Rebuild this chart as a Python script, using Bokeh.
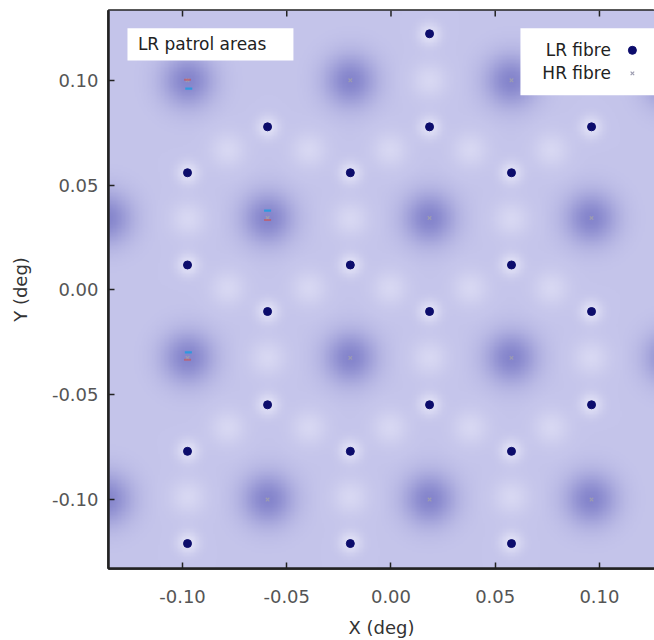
import numpy as np
from bokeh.plotting import figure
from bokeh.models import (Range1d, FixedTicker, NumeralTickFormatter,
                          BoxAnnotation, Label, ColumnDataSource)
from bokeh.embed import file_html
from bokeh.resources import INLINE

# ---------------- data (degrees) ----------------
lr_x = [-0.0976, -0.0976, -0.0976, -0.0976,
        -0.0592, -0.0592, -0.0592,
        -0.0195, -0.0195, -0.0195, -0.0195,
        0.0185, 0.0185, 0.0185, 0.0185,
        0.0578, 0.0578, 0.0578, 0.0578,
        0.0962, 0.0962, 0.0962]
lr_y = [0.0559, 0.0119, -0.0770, -0.1210,
        0.0778, -0.0103, -0.0548,
        0.0559, 0.0119, -0.0770, -0.1210,
        0.1222, 0.0778, -0.0103, -0.0548,
        0.0559, 0.0119, -0.0770, -0.1210,
        0.0778, -0.0103, -0.0548]

hr_x = [-0.0976, -0.0976, -0.0592, -0.0592, -0.0195, -0.0195,
        0.0185, 0.0185, 0.0578, 0.0578, 0.0962, 0.0962]
hr_y = [0.1000, -0.0324, 0.0343, -0.1000, 0.1000, -0.0324,
        0.0343, -0.1000, 0.1000, -0.0324, 0.0343, -0.1000]

# HR fibres just beyond the plotted window (their patrol hole shows at the edge)
hr_edge_x = [-0.1370, -0.1370, 0.1350, 0.1350]
hr_edge_y = [0.0343, -0.1000, 0.1000, -0.0324]

# small coloured marks seen next to some HR fibres
red_x = [-0.0976, -0.0592, -0.0976]
red_y = [0.1003, 0.0333, -0.0333]
cyan_x = [-0.0970, -0.0592, -0.0972]
cyan_y = [0.0960, 0.0378, -0.0298]

x_ticks = [-0.10, -0.05, 0.00, 0.05, 0.10]
y_ticks = [-0.10, -0.05, 0.00, 0.05, 0.10]

X0, X1 = -0.1355, 0.1264
Y0, Y1 = -0.1329, 0.1333

# ---------------- background patrol map ----------------
nx, ny = 420, 420
gx = np.linspace(X0, X1, nx)
gy = np.linspace(Y0, Y1, ny)
GX, GY = np.meshgrid(gx, gy)
field = np.zeros_like(GX)
for hx, hy in zip(hr_x + hr_edge_x, hr_y + hr_edge_y):
    field -= 0.75 * np.exp(-((GX - hx) ** 2 + (GY - hy) ** 2) / (2 * 0.0090 ** 2))
lx = np.array(lr_x); ly = np.array(lr_y)
for i in range(len(lx)):
    for j in range(i + 1, len(lx)):
        d = np.hypot(lx[i] - lx[j], ly[i] - ly[j])
        if d < 0.05:
            mx, my = (lx[i] + lx[j]) / 2, (ly[i] + ly[j]) / 2
            field += 0.5 * np.exp(-((GX - mx) ** 2 + (GY - my) ** 2) / (2 * 0.0060 ** 2))
for x, y in zip(lr_x, lr_y):
    field += 0.8 * np.exp(-((GX - x) ** 2 + (GY - y) ** 2) / (2 * 0.0038 ** 2))
field = np.clip(field, -1, 1)

base = np.array([197, 197, 235], float)
dark = np.array([112, 112, 194], float)
light = np.array([234, 234, 250], float)
t = field[..., None]
rgb = np.where(t < 0, base + (-t) * (dark - base), base + t * (light - base))
img = np.empty((ny, nx), dtype=np.uint32)
view = img.view(dtype=np.uint8).reshape((ny, nx, 4))
view[..., 0] = rgb[..., 0].astype(np.uint8)
view[..., 1] = rgb[..., 1].astype(np.uint8)
view[..., 2] = rgb[..., 2].astype(np.uint8)
view[..., 3] = 255

FONT = "DejaVu Sans"

p = figure(width=654, height=640, x_range=Range1d(X0, X1), y_range=Range1d(Y0, Y1),
           output_backend="svg", toolbar_location=None,
           x_axis_label="X (deg)", y_axis_label="Y (deg)")
p.min_border_left = 108
p.min_border_right = 0
p.min_border_top = 10
p.min_border_bottom = 71
p.grid.visible = False
p.background_fill_color = "white"
p.border_fill_color = "white"
p.outline_line_color = "#222222"
p.outline_line_width = 2.5

p.image_rgba(image=[img], x=X0, y=Y0, dw=X1 - X0, dh=Y1 - Y0)

# inward ticks along the top edge, at the x tick values
tick_len = 6.0 / 2100.0
p.segment(x0=x_ticks, y0=[Y1] * len(x_ticks), x1=x_ticks, y1=[Y1 - tick_len] * len(x_ticks),
          line_color="#222222", line_width=1.5)

src_lr = ColumnDataSource(dict(x=lr_x, y=lr_y))
src_hr = ColumnDataSource(dict(x=hr_x, y=hr_y))
p.scatter("x", "y", source=src_hr, marker="x", size=5, line_color="#9c9cb0", line_width=1.2)
p.scatter(red_x, red_y, marker="dash", size=7, line_color="#d05050", line_width=2, line_alpha=0.6)
p.scatter(cyan_x, cyan_y, marker="dash", size=7, line_color="#1e9be0", line_width=2.2, line_alpha=0.85)
p.scatter("x", "y", source=src_lr, marker="circle", size=8, fill_color="#0c0c6c",
          line_color="#0c0c6c")

for ax, ticks in ((p.xaxis[0], x_ticks), (p.yaxis[0], y_ticks)):
    ax.ticker = FixedTicker(ticks=ticks)
    ax.formatter = NumeralTickFormatter(format="0.00")
    ax.major_tick_in = 6
    ax.major_tick_out = 0
    ax.major_tick_line_color = "#222222"
    ax.major_tick_line_width = 1.5
    ax.minor_tick_line_color = None
    ax.axis_line_color = "#222222"
    ax.axis_line_width = 2.5
    ax.major_label_text_font = FONT
    ax.major_label_text_font_size = "18px"
    ax.major_label_text_color = "#555555"
    ax.axis_label_text_font = FONT
    ax.axis_label_text_font_size = "18px"
    ax.axis_label_text_font_style = "normal"
    ax.axis_label_text_color = "#333333"
p.xaxis[0].major_label_standoff = 21
p.xaxis[0].axis_label_standoff = 11
p.yaxis[0].major_label_standoff = 10
p.yaxis[0].axis_label_standoff = 18

# "LR patrol areas" tag
p.add_layout(BoxAnnotation(left=-0.1264, right=-0.0468, top=0.1248, bottom=0.1095,
                           fill_color="white", fill_alpha=1.0, line_color=None))
p.add_layout(Label(x=-0.1214, y=0.1171, text="LR patrol areas", text_font=FONT,
                   text_font_size="17px", text_color="#222222", text_baseline="middle"))

# key (text left of symbol)
p.add_layout(BoxAnnotation(left=0.0621, right=X1, top=0.1248, bottom=0.0929,
                           fill_color="white", fill_alpha=1.0, line_color=None))
p.add_layout(Label(x=0.1055, y=0.1143, text="LR fibre", text_font=FONT,
                   text_font_size="17px", text_color="#222222", text_align="right",
                   text_baseline="middle"))
p.add_layout(Label(x=0.1055, y=0.1033, text="HR fibre", text_font=FONT,
                   text_font_size="17px", text_color="#222222", text_align="right",
                   text_baseline="middle"))
key_lr = p.scatter([0.1158], [0.1143], marker="circle", size=8, fill_color="#0c0c6c",
                   line_color="#0c0c6c")
key_hr = p.scatter([0.1158], [0.1033], marker="x", size=5, line_color="#9c9cb0", line_width=1.2)
key_lr.level = "overlay"
key_hr.level = "overlay"

open("out.html", "w").write(file_html(p, INLINE))
